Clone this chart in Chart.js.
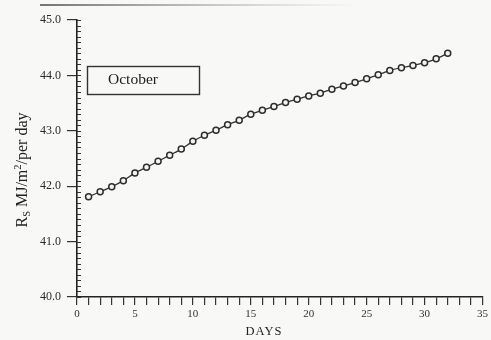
<!DOCTYPE html>
<html>
<head>
<meta charset="utf-8">
<title>Rs October</title>
<script src="https://cdn.jsdelivr.net/npm/chart.js@4/dist/chart.umd.min.js"></script>
<style>
  html, body { margin: 0; padding: 0; background: #f8f8f7; }
  #wrap { width: 491px; height: 340px; position: relative; }
  canvas { display: block; }
</style>
</head>
<body>
<div id="wrap"><canvas id="c" width="491" height="340"></canvas></div>
<script>
// Daily solar radiation for October (MJ/m2 per day)
const days = [1, 2, 3, 4, 5, 6, 7, 8, 9, 10, 11, 12, 13, 14, 15, 16,
              17, 18, 19, 20, 21, 22, 23, 24, 25, 26, 27, 28, 29, 30, 31, 32];
const radiation = [41.81, 41.90, 41.99, 42.10, 42.24, 42.34, 42.45, 42.56,
                   42.67, 42.81, 42.92, 43.01, 43.11, 43.19, 43.30, 43.37,
                   43.44, 43.51, 43.57, 43.63, 43.68, 43.75, 43.81, 43.87,
                   43.94, 44.01, 44.09, 44.14, 44.18, 44.23, 44.30, 44.40];
const xLabelDays = [0, 5, 10, 15, 20, 25, 30, 35];
const yTickValues = [40, 41, 42, 43, 44, 45];
const monthLabel = 'October';
const xTitle = 'DAYS';

const SERIF = '"Liberation Serif", "Times New Roman", serif';
const INK = '#222';

// Extra drawing: minor y ticks, axis titles, month box
const extras = {
  id: 'extras',
  beforeDatasetsDraw(chart) {
    const ctx = chart.ctx;
    const y = chart.scales.y, x = chart.scales.x;
    ctx.save();
    ctx.strokeStyle = '#333';
    ctx.lineWidth = 1;
    for (let i = 0; i <= 50; i++) {
      const v = 40 + i * 0.1;
      const py = Math.round(y.getPixelForValue(v)) + 0.5;
      ctx.beginPath();
      ctx.moveTo(x.left, py);
      ctx.lineTo(x.left + 4, py);
      ctx.stroke();
    }
    ctx.restore();
  },
  afterDraw(chart) {
    const ctx = chart.ctx;
    ctx.save();

    // faint rule along the top edge
    const g = ctx.createLinearGradient(40, 0, 360, 0);
    g.addColorStop(0, 'rgba(40,40,40,0.85)');
    g.addColorStop(0.3, 'rgba(60,60,60,0.6)');
    g.addColorStop(1, 'rgba(120,120,120,0)');
    ctx.strokeStyle = g;
    ctx.lineWidth = 1.5;
    ctx.beginPath();
    ctx.moveTo(40, 5);
    ctx.lineTo(360, 5);
    ctx.stroke();

    // y axis title: R_S MJ/m^2/per day
    ctx.fillStyle = INK;
    ctx.translate(27, 170);
    ctx.rotate(-Math.PI / 2);
    const big = '16px ' + SERIF, small = '10.5px ' + SERIF;
    const parts = [
      { t: 'R', f: big, dy: 0 },
      { t: 'S', f: small, dy: 3 },
      { t: ' MJ/m', f: big, dy: 0 },
      { t: '2', f: small, dy: -6 },
      { t: '/per day', f: big, dy: 0 }
    ];
    let total = 0;
    parts.forEach(p => { ctx.font = p.f; p.w = ctx.measureText(p.t).width; total += p.w; });
    let cx = -total / 2;
    ctx.textBaseline = 'alphabetic';
    ctx.textAlign = 'left';
    parts.forEach(p => { ctx.font = p.f; ctx.fillText(p.t, cx, p.dy); cx += p.w; });
    ctx.setTransform(1, 0, 0, 1, 0, 0);

    // x axis title
    ctx.font = '12.5px ' + SERIF;
    ctx.textAlign = 'center';
    ctx.textBaseline = 'middle';
    ctx.fillStyle = INK;
    if ('letterSpacing' in ctx) ctx.letterSpacing = '1px';
    ctx.fillText(xTitle, 264, 332);
    if ('letterSpacing' in ctx) ctx.letterSpacing = '0px';

    // month box
    ctx.strokeStyle = '#333';
    ctx.lineWidth = 1.4;
    ctx.strokeRect(87.5, 66.5, 112, 28);
    ctx.font = '15.5px ' + SERIF;
    ctx.textAlign = 'left';
    ctx.fillText(monthLabel, 108, 80);

    ctx.restore();
  }
};

new Chart(document.getElementById('c'), {
  type: 'line',
  data: {
    datasets: [{
      data: days.map((d, i) => ({ x: d, y: radiation[i] })),
      borderColor: '#333',
      borderWidth: 1.3,
      tension: 0.25,
      pointRadius: 3,
      pointBorderWidth: 1.5,
      pointBorderColor: '#2e2e2e',
      pointBackgroundColor: '#f4f4f4'
    }]
  },
  options: {
    responsive: false,
    animation: false,
    devicePixelRatio: 1,
    layout: { padding: { top: 20, right: 7, bottom: 0, left: 0 } },
    plugins: { legend: { display: false }, tooltip: { enabled: false } },
    scales: {
      x: {
        type: 'linear',
        min: 0,
        max: 35,
        ticks: {
          stepSize: 1,
          autoSkip: false,
          maxRotation: 0,
          padding: 3,
          color: '#333',
          font: { family: SERIF, size: 11 },
          callback: v => xLabelDays.includes(v) ? String(v) : ''
        },
        grid: { drawOnChartArea: false, tickLength: 8, color: '#333', lineWidth: 1.2 },
        border: { color: '#222', width: 1.6 },
        afterFit: s => { s.height = 43; }
      },
      y: {
        min: 40,
        max: 45,
        afterBuildTicks: s => { s.ticks = yTickValues.map(v => ({ value: v })); },
        ticks: {
          padding: 6,
          color: '#2a2a2a',
          font: { family: SERIF, size: 12 },
          callback: v => Number(v).toFixed(1)
        },
        grid: { drawOnChartArea: false, tickLength: 10, color: '#333', lineWidth: 1.2 },
        border: { color: '#222', width: 1.6 },
        afterFit: s => { s.width = 77; }
      }
    }
  },
  plugins: [extras]
});
</script>
</body>
</html>
